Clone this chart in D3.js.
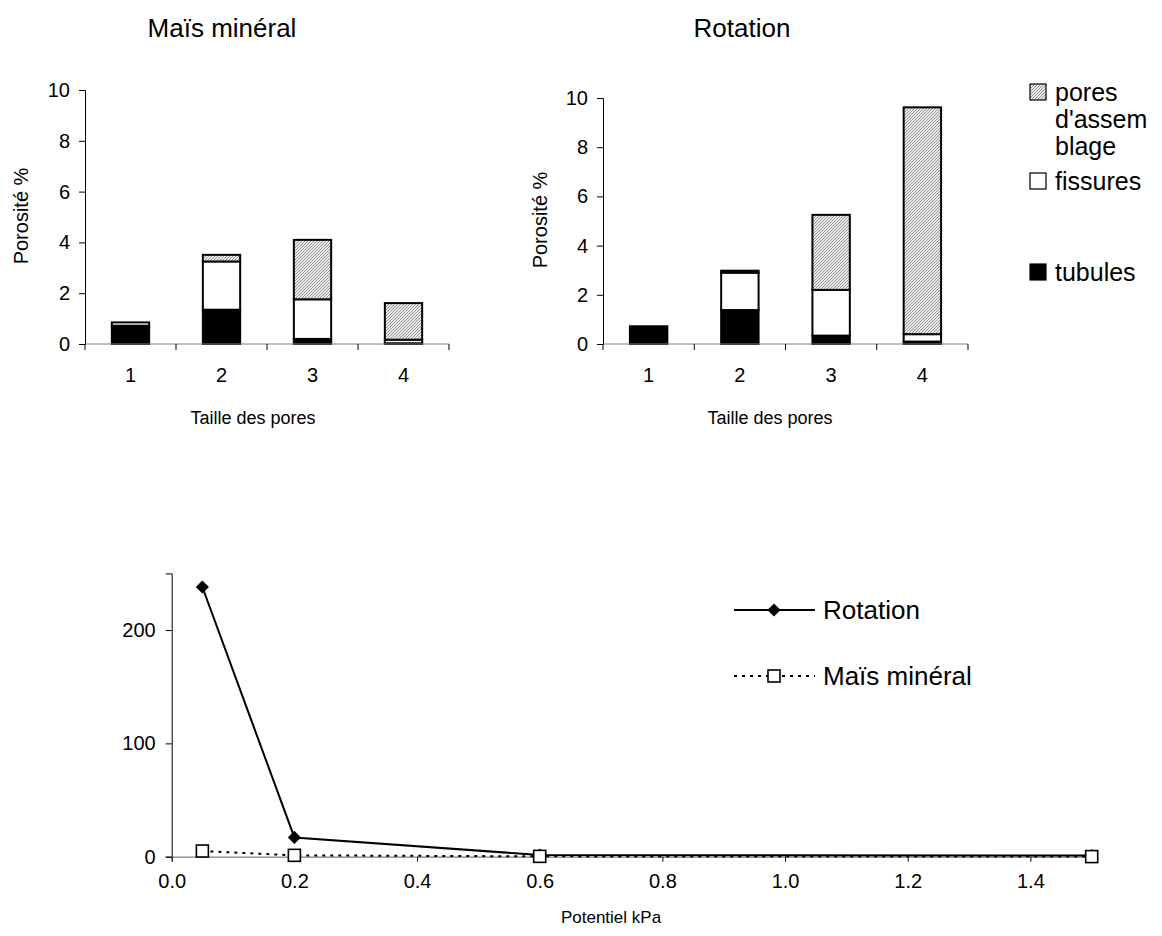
<!DOCTYPE html>
<html>
<head>
<meta charset="utf-8">
<script src="https://cdn.jsdelivr.net/npm/d3@7"></script>
<style>
  html, body { margin: 0; padding: 0; background: #fff; }
  svg { display: block; font-family: "Liberation Sans", Arial, sans-serif; }
</style>
</head>
<body>
<svg id="chart" width="1162" height="936"></svg>
<script>
// ---------- DATA ----------
const categories = ["1", "2", "3", "4"];
const seriesNames = ["tubules", "fissures", "pores d'assemblage"];

const maisTubules    = [0.72, 1.35, 0.20, 0.03];
const maisFissures   = [0.13, 1.90, 1.56, 0.14];
const maisAssemblage = [0.00, 0.26, 2.34, 1.44];

const rotTubules     = [0.72, 1.38, 0.34, 0.10];
const rotFissures    = [0.00, 1.52, 1.86, 0.30];
const rotAssemblage  = [0.00, 0.08, 3.05, 9.22];

const porosityTicks = [0, 2, 4, 6, 8, 10];

const potentiel   = [0.05, 0.2, 0.6, 1.5];
const rotationK   = [238, 17, 1.5, 1.0];
const maisK       = [5, 1.2, 0.3, 0.1];
const kTicks      = [0, 100, 200];
const potTicks    = [0, 0.2, 0.4, 0.6, 0.8, 1.0, 1.2, 1.4];

// ---------- SETUP ----------
const svg = d3.select("#chart");
const FONT = "'Liberation Sans', Arial, sans-serif";

const defs = svg.append("defs");
const pat = defs.append("pattern")
  .attr("id", "hatch").attr("patternUnits", "userSpaceOnUse")
  .attr("width", 3).attr("height", 3);
pat.append("rect").attr("width", 3).attr("height", 3).attr("fill", "#ececec");
pat.append("path").attr("d", "M-1,1 l2,-2 M0,3 l3,-3 M2,4 l2,-2")
  .attr("stroke", "#939393").attr("stroke-width", 1);

const fills = ["#000", "#fff", "url(#hatch)"];

function barChart(opt) {
  const g = svg.append("g");
  const x = d3.scaleBand().domain(categories).range([opt.x0, opt.x1]).padding(0);
  const y = d3.scaleLinear().domain([0, 10]).range([opt.y0, opt.y1]);

  const rows = categories.map((c, i) => ({
    cat: c, tubules: opt.data[0][i], fissures: opt.data[1][i], "pores d'assemblage": opt.data[2][i]
  }));
  const stack = d3.stack().keys(seriesNames)(rows);

  const bw = x.bandwidth() * 0.41;
  stack.forEach((layer, li) => {
    g.append("g").selectAll("rect").data(layer).join("rect")
      .attr("x", d => x(d.data.cat) + (x.bandwidth() - bw) / 2)
      .attr("width", bw)
      .attr("y", d => y(d[1]))
      .attr("height", d => Math.max(0, y(d[0]) - y(d[1])))
      .attr("fill", fills[li])
      .attr("stroke", "#000")
      .attr("stroke-width", d => (d[1] - d[0]) > 0 ? 2 : 0);
  });

  // y axis
  const ya = g.append("g").attr("transform", `translate(${opt.x0},0)`)
    .call(d3.axisLeft(y).tickValues(porosityTicks).tickSize(6).tickPadding(9).tickFormat(d3.format("d")));
  ya.select(".domain").attr("stroke", "#000");
  ya.selectAll(".tick line").attr("stroke", "#000");
  ya.selectAll("text").attr("font-size", 20).attr("font-family", FONT).attr("fill", "#000");

  // x axis (category boundaries as ticks)
  const xa = g.append("g");
  xa.append("line").attr("x1", opt.x0).attr("x2", opt.x1)
    .attr("y1", y(0)).attr("y2", y(0)).attr("stroke", "#808080").attr("stroke-width", 1.2);
  const bounds = categories.map(c => x(c)).concat([x.range()[1]]);
  xa.selectAll("line.tk").data(bounds).join("line").attr("class", "tk")
    .attr("x1", d => d).attr("x2", d => d)
    .attr("y1", y(0)).attr("y2", y(0) + 6).attr("stroke", "#000");
  xa.selectAll("text").data(categories).join("text")
    .attr("x", d => x(d) + x.bandwidth() / 2).attr("y", y(0) + 38)
    .attr("text-anchor", "middle").attr("font-size", 20).attr("font-family", FONT)
    .text(d => d);

  // titles
  g.append("text").attr("x", opt.titleX).attr("y", 37).attr("text-anchor", "middle")
    .attr("font-size", 26).attr("font-family", FONT).text(opt.title);
  g.append("text").attr("x", opt.xLabelX).attr("y", 424).attr("text-anchor", "middle")
    .attr("font-size", 18).attr("font-family", FONT).text("Taille des pores");
  g.append("text").attr("transform", `translate(${opt.yLabelX},${opt.yLabelY}) rotate(-90)`)
    .attr("text-anchor", "middle").attr("font-size", 20).attr("font-family", FONT).text("Porosité %");
}

barChart({ x0: 85, x1: 449, y0: 344, y1: 90, data: [maisTubules, maisFissures, maisAssemblage],
  title: "Maïs minéral", titleX: 222, xLabelX: 253, yLabelX: 28, yLabelY: 216 });
barChart({ x0: 603, x1: 968, y0: 344, y1: 98, data: [rotTubules, rotFissures, rotAssemblage],
  title: "Rotation", titleX: 742, xLabelX: 770, yLabelX: 547, yLabelY: 220 });

// legend for bar charts
const legItems = [
  { fill: "url(#hatch)", lines: ["pores", "d'assem", "blage"], y: 92 },
  { fill: "#fff", lines: ["fissures"], y: 181 },
  { fill: "#000", lines: ["tubules"], y: 272 }
];
const lg = svg.append("g");
legItems.forEach(it => {
  lg.append("rect").attr("x", 1030).attr("y", it.y - 8).attr("width", 16).attr("height", 16)
    .attr("fill", it.fill).attr("stroke", "#000").attr("stroke-width", 1.2);
  const t = lg.append("text").attr("x", 1055).attr("y", it.y + 9)
    .attr("font-size", 25).attr("font-family", FONT);
  it.lines.forEach((s, i) => {
    t.append("tspan").attr("x", 1055).attr("dy", i === 0 ? 0 : 27).text(s);
  });
});

// ---------- LINE CHART ----------
const lx = d3.scaleLinear().domain([0, 1.5]).range([171.7, 1091.7]);
const ly = d3.scaleLinear().domain([0, 250]).range([856.7, 573.4]);
const lgc = svg.append("g");

const yAx = lgc.append("g").attr("transform", `translate(${lx(0)},0)`)
  .call(d3.axisLeft(ly).tickValues(kTicks).tickSize(6).tickPadding(10).tickFormat(d3.format("d")));
yAx.select(".domain").attr("stroke", "#000");
yAx.selectAll("text").attr("font-size", 20).attr("font-family", FONT).attr("fill", "#000");

const xAx = lgc.append("g").attr("transform", `translate(0,${ly(0)})`)
  .call(d3.axisBottom(lx).tickValues(potTicks).tickSize(5).tickPadding(12).tickFormat(d3.format(".1f")));
xAx.select(".domain").attr("stroke", "#808080").attr("stroke-width", 1.2);
xAx.selectAll(".tick line").attr("stroke", "#000");
xAx.selectAll("text").attr("font-size", 20).attr("font-family", FONT).attr("fill", "#000");

const line = d3.line().x(d => lx(d[0])).y(d => ly(d[1]));
const rotPts = potentiel.map((p, i) => [p, rotationK[i]]);
const maisPts = potentiel.map((p, i) => [p, maisK[i]]);

lgc.append("path").datum(rotPts).attr("d", line).attr("fill", "none")
  .attr("stroke", "#000").attr("stroke-width", 2);
lgc.append("path").datum(maisPts).attr("d", line).attr("fill", "none")
  .attr("stroke", "#000").attr("stroke-width", 2).attr("stroke-dasharray", "3,5");

const diamond = d3.symbol().type(d3.symbolDiamond2).size(110);
lgc.selectAll("path.rot").data(rotPts).join("path").attr("class", "rot")
  .attr("transform", d => `translate(${lx(d[0])},${ly(d[1])})`)
  .attr("d", diamond).attr("fill", "#000");
lgc.selectAll("rect.mais").data(maisPts).join("rect").attr("class", "mais")
  .attr("x", d => lx(d[0]) - 6).attr("y", d => ly(d[1]) - 6)
  .attr("width", 12).attr("height", 12)
  .attr("fill", "#fff").attr("stroke", "#000").attr("stroke-width", 1.6);

// y label with clipped superscript
defs.append("clipPath").attr("id", "ylabclip")
  .append("rect").attr("x", 0).attr("y", 572).attr("width", 140).attr("height", 340);
lgc.append("text").attr("clip-path", "url(#ylabclip)")
  .attr("transform", "translate(89,868) rotate(-90)")
  .attr("font-size", 20).attr("font-family", FONT)
  .text("Conductivité hydraulique mm;h")
  .append("tspan").attr("dy", -8).attr("font-size", 13).text("-1");

lgc.append("text").attr("x", 611).attr("y", 923).attr("text-anchor", "middle")
  .attr("font-size", 17).attr("font-family", FONT).text("Potentiel kPa");

// legend line chart
const ll = svg.append("g");
const legLines = [
  { name: "Rotation", y: 610, dash: null, marker: "diamond" },
  { name: "Maïs minéral", y: 676, dash: "3,5", marker: "square" }
];
legLines.forEach(l => {
  ll.append("line").attr("x1", 734).attr("x2", 815).attr("y1", l.y).attr("y2", l.y)
    .attr("stroke", "#000").attr("stroke-width", 2).attr("stroke-dasharray", l.dash);
  if (l.marker === "diamond") {
    ll.append("path").attr("transform", `translate(774,${l.y})`).attr("d", diamond).attr("fill", "#000");
  } else {
    ll.append("rect").attr("x", 768).attr("y", l.y - 6).attr("width", 12).attr("height", 12)
      .attr("fill", "#fff").attr("stroke", "#000").attr("stroke-width", 1.6);
  }
  ll.append("text").attr("x", 823).attr("y", l.y + 9).attr("font-size", 26)
    .attr("font-family", FONT).text(l.name);
});
</script>
</body>
</html>
